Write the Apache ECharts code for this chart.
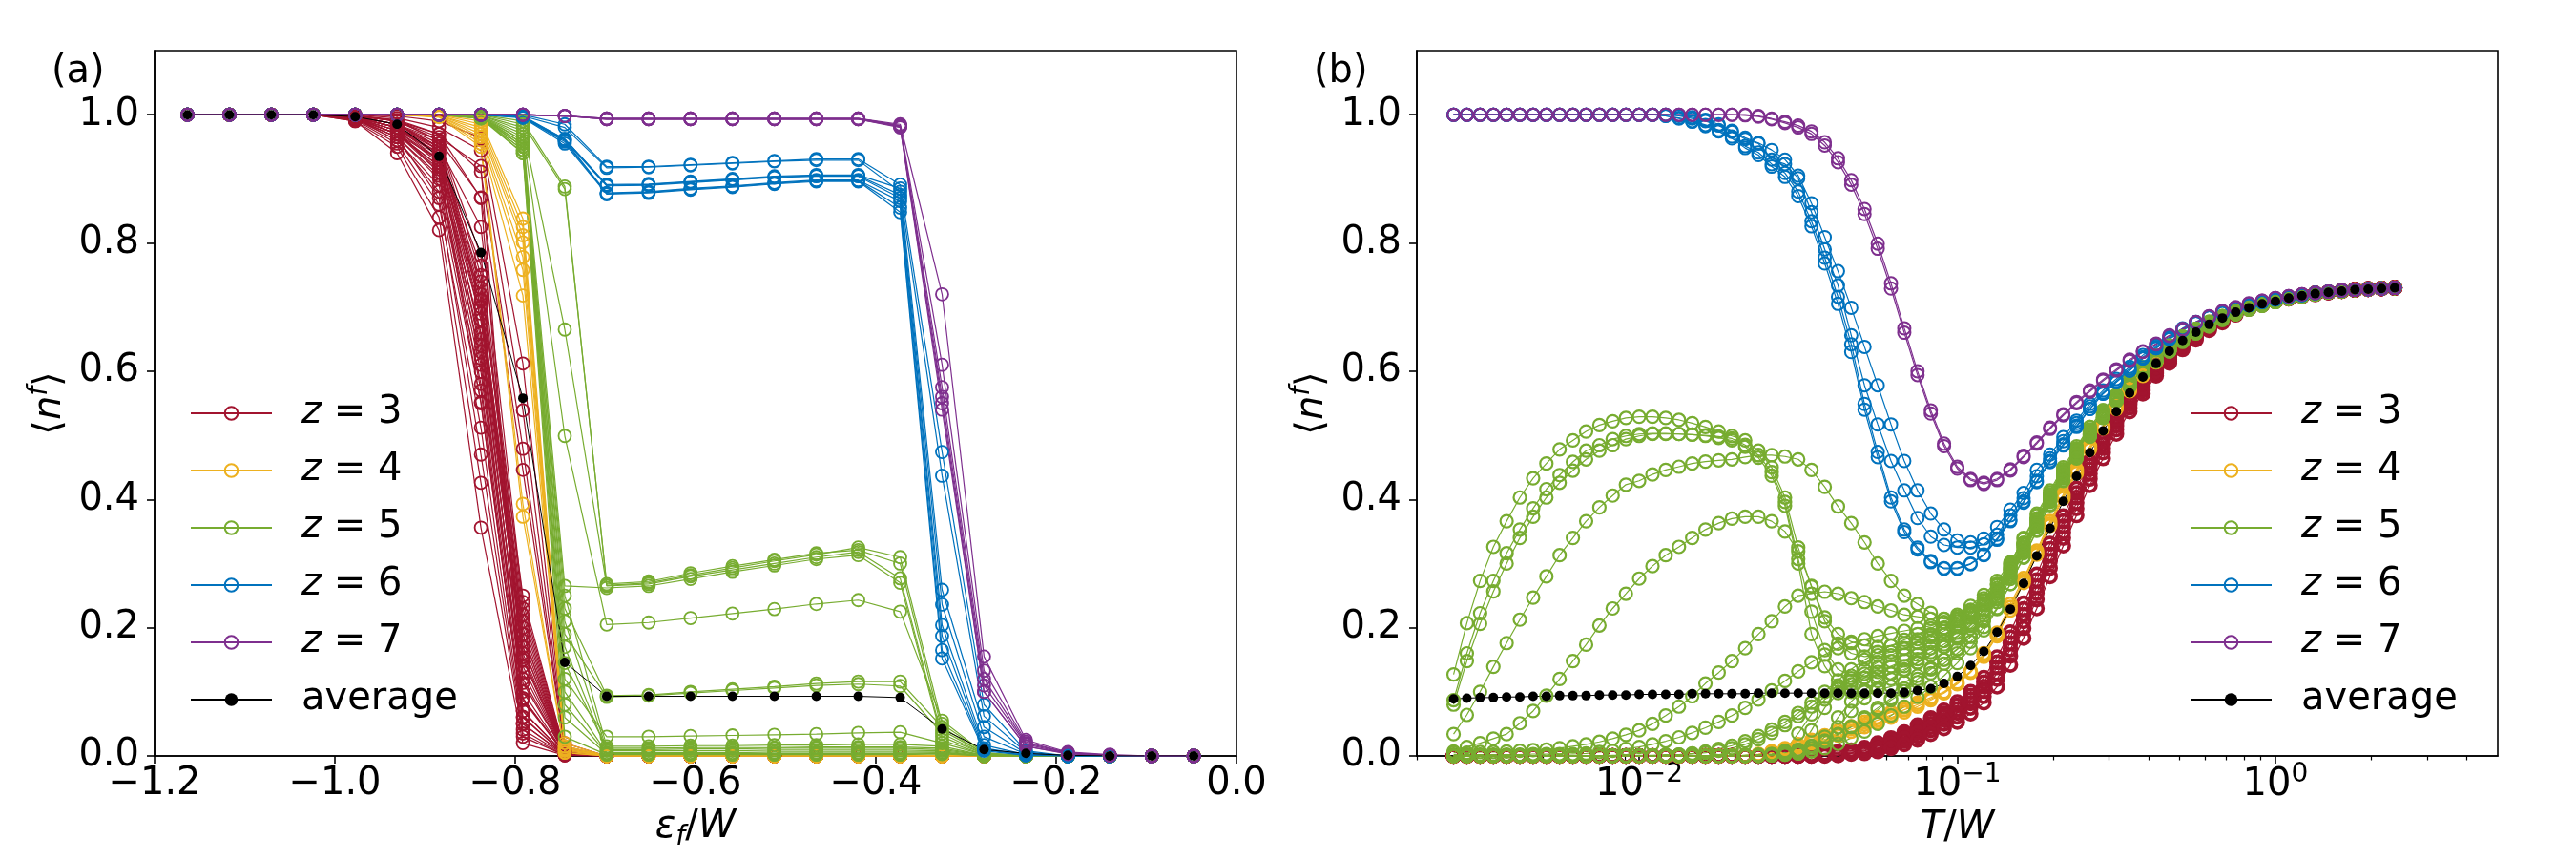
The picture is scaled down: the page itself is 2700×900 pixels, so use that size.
<!DOCTYPE html>
<html><head><meta charset="utf-8">
<script src="https://cdn.jsdelivr.net/npm/echarts@6/dist/echarts.min.js"></script>
<style>html,body{margin:0;padding:0;background:#fff}#c{width:2700px;height:900px}</style>
</head><body><div id="c"></div>
<script>
// ---------- Panel (a): x grid (eps_f / W) ----------
const EPS = [-1.1635,-1.117,-1.0705,-1.024,-0.9775,-0.931,-0.8845,-0.838,-0.7915,-0.745,-0.6985,-0.652,-0.6055,-0.559,-0.5125,-0.466,-0.4195,-0.373,-0.3265,-0.28,-0.2335,-0.187,-0.1405,-0.094,-0.0475];

const red_a = [
[1,1,1,1,1,0.998,0.99,0.964,0.612,0.02,0,0,0,0,0,0,0,0,0,0,0,0,0,0,0],
[1,1,1,1,1,0.995,0.98,0.944,0.539,0.015,0,0,0,0,0,0,0,0,0,0,0,0,0,0,0],
[1,1,1,1,0.999,0.99,0.97,0.911,0.479,0.012,0,0,0,0,0,0,0,0,0,0,0,0,0,0,0],
[1,1,1,1,0.998,0.99,0.96,0.871,0.446,0.01,0,0,0,0,0,0,0,0,0,0,0,0,0,0,0],
[1,1,1,1,0.997,0.985,0.95,0.825,0.24,0.008,0,0,0,0,0,0,0,0,0,0,0,0,0,0,0],
[1,1,1,1,0.996,0.98,0.94,0.765,0.2,0.006,0,0,0,0,0,0,0,0,0,0,0,0,0,0,0],
[1,1,1,1,0.995,0.975,0.93,0.712,0.154,0.005,0,0,0,0,0,0,0,0,0,0,0,0,0,0,0],
[1,1,1,1,0.995,0.97,0.92,0.659,0.114,0.004,0,0,0,0,0,0,0,0,0,0,0,0,0,0,0],
[1,1,1,1,0.994,0.965,0.9,0.599,0.087,0.003,0,0,0,0,0,0,0,0,0,0,0,0,0,0,0],
[1,1,1,1,0.993,0.96,0.88,0.552,0.061,0.002,0,0,0,0,0,0,0,0,0,0,0,0,0,0,0],
[1,1,1,1,0.992,0.955,0.86,0.512,0.041,0.002,0,0,0,0,0,0,0,0,0,0,0,0,0,0,0],
[1,1,1,1,0.99,0.95,0.84,0.426,0.03,0.001,0,0,0,0,0,0,0,0,0,0,0,0,0,0,0],
[1,1,1,1,0.99,0.94,0.82,0.356,0.02,0.001,0,0,0,0,0,0,0,0,0,0,0,0,0,0,0],
[1,1,1,1,0.997,0.985,0.945,0.74,0.22,0.006,0,0,0,0,0,0,0,0,0,0,0,0,0,0,0],
[1,1,1,1,0.996,0.98,0.935,0.69,0.18,0.005,0,0,0,0,0,0,0,0,0,0,0,0,0,0,0],
[1,1,1,1,0.995,0.975,0.925,0.68,0.17,0.005,0,0,0,0,0,0,0,0,0,0,0,0,0,0,0],
[1,1,1,1,0.994,0.97,0.915,0.64,0.13,0.004,0,0,0,0,0,0,0,0,0,0,0,0,0,0,0],
[1,1,1,1,0.993,0.965,0.905,0.62,0.1,0.003,0,0,0,0,0,0,0,0,0,0,0,0,0,0,0],
[1,1,1,1,0.997,0.985,0.955,0.73,0.25,0.008,0,0,0,0,0,0,0,0,0,0,0,0,0,0,0],
[1,1,1,1,0.996,0.98,0.94,0.7,0.21,0.006,0,0,0,0,0,0,0,0,0,0,0,0,0,0,0],
[1,1,1,1,0.995,0.97,0.92,0.66,0.16,0.005,0,0,0,0,0,0,0,0,0,0,0,0,0,0,0],
[1,1,1,1,0.994,0.96,0.89,0.58,0.07,0.002,0,0,0,0,0,0,0,0,0,0,0,0,0,0,0],
[1,1,1,1,0.999,0.992,0.97,0.87,0.07,0.003,0,0,0,0,0,0,0,0,0,0,0,0,0,0,0],
[1,1,1,1,0.998,0.99,0.965,0.92,0.05,0.002,0,0,0,0,0,0,0,0,0,0,0,0,0,0,0],
[1,1,1,1,0.997,0.985,0.95,0.7,0.14,0.004,0,0,0,0,0,0,0,0,0,0,0,0,0,0,0],
[1,1,1,1,0.996,0.98,0.93,0.63,0.09,0.003,0,0,0,0,0,0,0,0,0,0,0,0,0,0,0],
[1,1,1,1,0.995,0.975,0.91,0.57,0.05,0.002,0,0,0,0,0,0,0,0,0,0,0,0,0,0,0],
[1,1,1,1,0.994,0.965,0.87,0.47,0.035,0.001,0,0,0,0,0,0,0,0,0,0,0,0,0,0,0],
[1,1,1,1,0.998,0.99,0.96,0.75,0.19,0.006,0,0,0,0,0,0,0,0,0,0,0,0,0,0,0],
[1,1,1,1,0.997,0.985,0.95,0.72,0.17,0.005,0,0,0,0,0,0,0,0,0,0,0,0,0,0,0],
[1,1,1,1,0.996,0.98,0.945,0.68,0.15,0.004,0,0,0,0,0,0,0,0,0,0,0,0,0,0,0],
[1,1,1,1,0.995,0.975,0.94,0.65,0.12,0.004,0,0,0,0,0,0,0,0,0,0,0,0,0,0,0],
[1,1,1,1,0.994,0.97,0.93,0.61,0.09,0.003,0,0,0,0,0,0,0,0,0,0,0,0,0,0,0],
[1,1,1,1,0.997,0.985,0.96,0.78,0.23,0.007,0,0,0,0,0,0,0,0,0,0,0,0,0,0,0],
[1,1,1,1,0.996,0.98,0.95,0.71,0.19,0.005,0,0,0,0,0,0,0,0,0,0,0,0,0,0,0],
[1,1,1,1,0.995,0.97,0.91,0.55,0.06,0.002,0,0,0,0,0,0,0,0,0,0,0,0,0,0,0]
];
const yellow_a = [
[1,1,1,1,1,1,1,0.99,0.838,0.02,0,0,0,0,0,0,0,0,0,0,0,0,0,0,0],
[1,1,1,1,1,1,1,0.985,0.825,0.015,0,0,0,0,0,0,0,0,0,0,0,0,0,0,0],
[1,1,1,1,1,1,0.999,0.98,0.812,0.015,0,0,0,0,0,0,0,0,0,0,0,0,0,0,0],
[1,1,1,1,1,1,0.999,0.975,0.801,0.012,0,0,0,0,0,0,0,0,0,0,0,0,0,0,0],
[1,1,1,1,1,1,0.998,0.97,0.778,0.01,0,0,0,0,0,0,0,0,0,0,0,0,0,0,0],
[1,1,1,1,1,1,0.998,0.965,0.758,0.01,0,0,0,0,0,0,0,0,0,0,0,0,0,0,0],
[1,1,1,1,1,1,0.997,0.96,0.718,0.008,0,0,0,0,0,0,0,0,0,0,0,0,0,0,0],
[1,1,1,1,1,1,0.997,0.955,0.393,0.005,0,0,0,0,0,0,0,0,0,0,0,0,0,0,0],
[1,1,1,1,1,1,0.996,0.95,0.373,0.005,0,0,0,0,0,0,0,0,0,0,0,0,0,0,0]
];
const green_a = [
[1,1,1,1,1,1,1,1,0.99,0.888,0.266,0.27,0.282,0.293,0.304,0.314,0.325,0.31,0.05,0.005,0,0,0,0,0],
[1,1,1,1,1,1,1,1,0.985,0.884,0.268,0.272,0.285,0.296,0.306,0.316,0.321,0.3,0.04,0.004,0,0,0,0,0],
[1,1,1,1,1,1,1,0.999,0.98,0.665,0.265,0.268,0.28,0.29,0.3,0.31,0.318,0.277,0.03,0.003,0,0,0,0,0],
[1,1,1,1,1,1,1,0.998,0.97,0.265,0.262,0.265,0.276,0.287,0.297,0.307,0.313,0.27,0.025,0.002,0,0,0,0,0],
[1,1,1,1,1,1,1,0.999,0.975,0.499,0.205,0.208,0.215,0.222,0.229,0.237,0.243,0.225,0.055,0.005,0,0,0,0,0],
[1,1,1,1,1,1,1,0.998,0.965,0.23,0.094,0.095,0.1,0.104,0.108,0.113,0.116,0.116,0.045,0.003,0,0,0,0,0],
[1,1,1,1,1,1,1,0.998,0.96,0.19,0.092,0.094,0.098,0.102,0.106,0.11,0.112,0.109,0.035,0.003,0,0,0,0,0],
[1,1,1,1,1,1,1,0.997,0.955,0.12,0.03,0.03,0.031,0.032,0.033,0.034,0.036,0.037,0.02,0.002,0,0,0,0,0],
[1,1,1,1,1,1,1,0.997,0.95,0.25,0.015,0.015,0.016,0.016,0.017,0.017,0.018,0.018,0.015,0.001,0,0,0,0,0],
[1,1,1,1,1,1,1,0.996,0.945,0.21,0.01,0.01,0.011,0.011,0.012,0.012,0.012,0.012,0.01,0.001,0,0,0,0,0],
[1,1,1,1,1,1,1,0.996,0.94,0.17,0.008,0.008,0.008,0.008,0.009,0.009,0.009,0.009,0.008,0,0,0,0,0,0],
[1,1,1,1,1,1,1,0.995,0.955,0.1,0.005,0.005,0.005,0.005,0.006,0.006,0.006,0.006,0.006,0,0,0,0,0,0],
[1,1,1,1,1,1,1,0.995,0.95,0.08,0.004,0.004,0.004,0.004,0.004,0.004,0.004,0.004,0.005,0,0,0,0,0,0],
[1,1,1,1,1,1,1,0.994,0.945,0.06,0.003,0.003,0.003,0.003,0.003,0.003,0.003,0.003,0.004,0,0,0,0,0,0],
[1,1,1,1,1,1,1,0.994,0.94,0.03,0.002,0.002,0.002,0.002,0.002,0.002,0.002,0.002,0.003,0,0,0,0,0,0],
[1,1,1,1,1,1,1,0.996,0.96,0.145,0.012,0.012,0.013,0.013,0.013,0.014,0.014,0.014,0.012,0.001,0,0,0,0,0]
];
const blue_a = [
[1,1,1,1,1,1,1,1,1,0.985,0.919,0.919,0.922,0.925,0.928,0.931,0.931,0.891,0.474,0.08,0.008,0,0,0,0],
[1,1,1,1,1,1,1,1,0.998,0.98,0.917,0.918,0.921,0.924,0.927,0.929,0.929,0.88,0.437,0.062,0.006,0,0,0,0],
[1,1,1,1,1,1,1,1,0.998,0.962,0.891,0.892,0.896,0.9,0.904,0.906,0.906,0.885,0.259,0.045,0.004,0,0,0,0],
[1,1,1,1,1,1,1,1,0.997,0.962,0.89,0.891,0.895,0.899,0.903,0.905,0.905,0.875,0.236,0.03,0.003,0,0,0,0],
[1,1,1,1,1,1,1,1,0.997,0.96,0.889,0.89,0.894,0.898,0.902,0.904,0.904,0.87,0.204,0.017,0.002,0,0,0,0],
[1,1,1,1,1,1,1,1,0.996,0.96,0.878,0.88,0.885,0.889,0.894,0.898,0.898,0.865,0.187,0.012,0.002,0,0,0,0],
[1,1,1,1,1,1,1,1,0.996,0.958,0.877,0.879,0.884,0.888,0.893,0.897,0.897,0.855,0.165,0.01,0.001,0,0,0,0],
[1,1,1,1,1,1,1,1,0.995,0.955,0.876,0.878,0.883,0.887,0.892,0.896,0.896,0.848,0.152,0.008,0.001,0,0,0,0]
];
const purple_a = [
[1,1,1,1,1,1,1,1,1,0.998,0.994,0.994,0.994,0.994,0.994,0.994,0.994,0.985,0.72,0.155,0.025,0.006,0.002,0,0],
[1,1,1,1,1,1,1,1,1,0.998,0.994,0.994,0.994,0.994,0.994,0.994,0.994,0.983,0.61,0.133,0.022,0.005,0.001,0,0],
[1,1,1,1,1,1,1,1,1,0.998,0.994,0.994,0.994,0.994,0.994,0.994,0.994,0.983,0.575,0.12,0.02,0.005,0.001,0,0],
[1,1,1,1,1,1,1,1,1,0.998,0.993,0.993,0.993,0.993,0.993,0.993,0.993,0.982,0.56,0.11,0.018,0.004,0.001,0,0],
[1,1,1,1,1,1,1,1,1,0.998,0.993,0.993,0.993,0.993,0.993,0.993,0.993,0.981,0.55,0.1,0.015,0.004,0.001,0,0],
[1,1,1,1,1,1,1,1,1,0.998,0.993,0.993,0.993,0.993,0.993,0.993,0.993,0.98,0.54,0.1,0.015,0.003,0.001,0,0]
];
const avg_a = [1,1,1,1,0.997,0.985,0.935,0.785,0.558,0.146,0.093,0.093,0.093,0.093,0.093,0.093,0.093,0.091,0.042,0.01,0.004,0.001,0,0,0];

// ---------- Panel (b): temperature grid (T / W) ----------
const TW = [0.002610,0.002873,0.003162,0.003481,0.003831,0.004217,0.004642,0.005109,0.005623,0.006190,0.006813,0.007499,0.008254,0.009085,
0.01000,0.01101,0.01212,0.01334,0.01468,0.01616,0.01778,0.01957,0.02154,0.02371,0.02610,0.02873,0.03162,0.03481,0.03831,0.04217,0.04642,0.05109,0.05623,0.06190,0.06813,0.07499,0.08254,0.09085,
0.1000,0.1101,0.1212,0.1334,0.1468,0.1616,0.1778,0.1957,0.2154,0.2371,0.2610,0.2873,0.3162,0.3481,0.3831,0.4217,0.4642,0.5109,0.5623,0.6190,0.6813,0.7499,0.8254,0.9085,
1.000,1.101,1.212,1.334,1.468,1.616,1.778,1.957,2.154,2.371];

const red_b = [
[0,0,0,0,0,0,0,0,0,0,0,0,
 0,0,0,0,0,0,0,0,0,0,0,0,
 0,0,0,0.001,0.002,0.004,0.006,0.009,0.015,0.022,0.03,0.04,
 0.05,0.061,0.073,0.088,0.108,0.138,0.176,0.22,0.264,0.314,0.358,0.403,
 0.447,0.486,0.52,0.552,0.577,0.603,0.621,0.641,0.654,0.669,0.679,0.691,
 0.7,0.705,0.71,0.714,0.718,0.721,0.723,0.725,0.727,0.728,0.729,0.73],
[0,0,0,0,0,0,0,0,0,0,0,0,
 0,0,0,0,0,0,0,0,0,0,0,0,
 0,0,0,0,0.001,0.002,0.004,0.006,0.01,0.016,0.023,0.031,
 0.04,0.05,0.061,0.075,0.093,0.12,0.156,0.199,0.244,0.293,0.34,0.386,
 0.432,0.473,0.509,0.543,0.57,0.597,0.616,0.637,0.651,0.666,0.677,0.689,
 0.698,0.704,0.709,0.713,0.717,0.72,0.723,0.725,0.727,0.728,0.729,0.73],
[0,0,0,0,0,0,0,0,0,0,0,0,
 0,0,0,0,0,0,0,0,0,0,0,0,
 0,0,0.001,0.002,0.004,0.006,0.009,0.013,0.02,0.028,0.037,0.048,
 0.059,0.071,0.084,0.1,0.122,0.154,0.193,0.238,0.283,0.331,0.374,0.417,
 0.459,0.496,0.529,0.559,0.584,0.608,0.626,0.645,0.657,0.671,0.681,0.693,
 0.701,0.706,0.71,0.714,0.718,0.721,0.723,0.725,0.727,0.728,0.729,0.73],
[0,0,0,0,0,0,0,0,0,0,0,0,
 0,0,0,0,0,0,0,0,0,0,0,0,
 0,0,0.001,0.001,0.003,0.005,0.008,0.011,0.018,0.025,0.034,0.044,
 0.055,0.066,0.079,0.094,0.115,0.146,0.185,0.229,0.274,0.323,0.366,0.41,
 0.453,0.491,0.525,0.556,0.581,0.606,0.624,0.643,0.656,0.67,0.68,0.692,
 0.701,0.706,0.71,0.714,0.718,0.721,0.723,0.725,0.727,0.728,0.729,0.73],
[0,0,0,0,0,0,0,0,0,0,0,0,
 0,0,0,0,0,0,0,0,0,0,0,0,
 0,0,0,0.001,0.002,0.003,0.005,0.008,0.012,0.019,0.027,0.036,
 0.045,0.056,0.067,0.082,0.101,0.129,0.166,0.21,0.254,0.304,0.349,0.395,
 0.44,0.48,0.515,0.548,0.574,0.6,0.619,0.639,0.653,0.668,0.678,0.69,
 0.699,0.705,0.71,0.714,0.718,0.721,0.723,0.725,0.727,0.728,0.729,0.73],
[0,0,0,0,0,0,0,0,0,0,0,0,
 0,0,0,0,0,0,0,0,0,0,0,0,
 0,0,0,0,0,0.001,0.003,0.004,0.007,0.012,0.018,0.025,
 0.034,0.043,0.053,0.066,0.083,0.108,0.142,0.184,0.23,0.28,0.328,0.375,
 0.422,0.464,0.502,0.537,0.565,0.593,0.613,0.634,0.649,0.664,0.676,0.688,
 0.697,0.703,0.709,0.713,0.717,0.72,0.723,0.725,0.727,0.728,0.729,0.73]
];
const yellow_b = [
[0,0,0,0,0,0,0,0,0,0,0,0,
 0,0,0,0,0,0,0,0,0,0,0,0.002,
 0.005,0.009,0.014,0.02,0.026,0.032,0.038,0.045,0.052,0.06,0.068,0.077,
 0.087,0.098,0.112,0.13,0.155,0.187,0.227,0.27,0.314,0.359,0.402,0.441,
 0.478,0.511,0.541,0.569,0.593,0.614,0.633,0.649,0.662,0.674,0.684,0.692,
 0.699,0.705,0.71,0.714,0.718,0.721,0.723,0.725,0.727,0.728,0.729,0.73],
[0,0,0,0,0,0,0,0,0,0,0,0,
 0,0,0,0,0,0,0,0,0,0,0.001,0.003,
 0.007,0.012,0.018,0.025,0.032,0.039,0.046,0.053,0.06,0.068,0.076,0.083,
 0.091,0.1,0.115,0.132,0.16,0.192,0.237,0.277,0.32,0.366,0.408,0.447,
 0.483,0.515,0.545,0.572,0.596,0.616,0.635,0.651,0.664,0.675,0.685,0.693,
 0.7,0.705,0.71,0.714,0.718,0.721,0.723,0.725,0.727,0.728,0.729,0.73],
[0,0,0,0,0,0,0,0,0,0,0,0,
 0,0,0,0,0,0,0,0,0,0,0,0.001,
 0.006,0.01,0.016,0.022,0.029,0.035,0.042,0.049,0.056,0.064,0.072,0.08,
 0.089,0.099,0.113,0.131,0.157,0.189,0.232,0.273,0.317,0.362,0.405,0.444,
 0.48,0.513,0.543,0.57,0.594,0.615,0.634,0.65,0.663,0.674,0.684,0.692,
 0.699,0.705,0.71,0.714,0.718,0.721,0.723,0.725,0.727,0.728,0.729,0.73]
];
const green_b = [
[0.127,0.207,0.273,0.326,0.366,0.403,0.433,0.456,0.478,0.492,0.506,0.516,
 0.522,0.527,0.529,0.529,0.527,0.524,0.519,0.513,0.506,0.499,0.492,0.476,
 0.45,0.403,0.325,0.264,0.216,0.19,0.178,0.172,0.17,0.172,0.176,0.182,
 0.19,0.199,0.21,0.224,0.243,0.268,0.298,0.332,0.368,0.404,0.44,0.474,
 0.505,0.533,0.558,0.581,0.601,0.619,0.635,0.649,0.662,0.673,0.683,0.691,
 0.698,0.704,0.709,0.713,0.717,0.72,0.723,0.725,0.727,0.728,0.729,0.73],
[0.087,0.16,0.2225,0.273,0.316,0.353,0.386,0.416,0.438,0.4585,0.476,0.4845,
 0.494,0.499,0.502,0.503,0.503,0.502,0.501,0.5,0.498,0.495,0.485,0.469,
 0.4425,0.396,0.307,0.225,0.165,0.135,0.125,0.122,0.124,0.128,0.135,0.145,
 0.157,0.17,0.186,0.205,0.228,0.256,0.289,0.326,0.364,0.401,0.437,0.471,
 0.502,0.53,0.556,0.579,0.599,0.617,0.633,0.648,0.661,0.672,0.682,0.69,
 0.697,0.703,0.708,0.713,0.717,0.72,0.723,0.725,0.727,0.728,0.729,0.73],
[0.08,0.148,0.206,0.2565,0.3,0.34,0.373,0.403,0.426,0.445,0.4625,0.476,
 0.4845,0.494,0.499,0.502,0.502,0.502,0.501,0.499,0.496,0.492,0.482,0.465,
 0.437,0.39,0.3,0.19,0.14,0.11,0.1,0.1,0.103,0.108,0.115,0.125,
 0.137,0.15,0.166,0.186,0.212,0.244,0.28,0.32,0.36,0.398,0.435,0.469,
 0.5,0.528,0.554,0.577,0.598,0.616,0.632,0.647,0.66,0.671,0.681,0.689,
 0.697,0.703,0.708,0.713,0.717,0.72,0.723,0.725,0.727,0.728,0.729,0.73],
[0.034,0.064,0.1,0.139,0.176,0.2125,0.247,0.28,0.313,0.34,0.366,0.3875,
 0.406,0.423,0.429,0.439,0.446,0.451,0.456,0.459,0.461,0.4625,0.466,0.469,
 0.469,0.467,0.4625,0.446,0.4195,0.389,0.363,0.333,0.3,0.273,0.25,0.237,
 0.223,0.2135,0.214,0.222,0.236,0.258,0.292,0.33,0.37,0.408,0.444,0.478,
 0.509,0.536,0.561,0.583,0.603,0.621,0.637,0.651,0.664,0.675,0.685,0.693,
 0.7,0.706,0.71,0.714,0.718,0.721,0.723,0.725,0.727,0.728,0.729,0.73],
[0.007,0.014,0.02,0.027,0.034,0.051,0.07,0.094,0.12,0.148,0.1735,0.2035,
 0.23,0.253,0.2765,0.296,0.313,0.326,0.34,0.353,0.363,0.37,0.373,0.373,
 0.366,0.35,0.319,0.265,0.21,0.175,0.16,0.155,0.157,0.162,0.168,0.176,
 0.185,0.195,0.206,0.22,0.238,0.262,0.294,0.331,0.369,0.406,0.442,0.476,
 0.507,0.535,0.56,0.582,0.602,0.62,0.636,0.65,0.663,0.674,0.684,0.692,
 0.699,0.705,0.709,0.713,0.717,0.72,0.723,0.725,0.727,0.728,0.729,0.73],
[0.005,0.005,0.006,0.006,0.007,0.008,0.009,0.01,0.012,0.015,0.018,0.022,
 0.027,0.033,0.04,0.05,0.063,0.077,0.093,0.113,0.13,0.148,0.168,0.19,
 0.21,0.233,0.25,0.253,0.256,0.253,0.246,0.24,0.233,0.227,0.22,0.217,
 0.214,0.214,0.217,0.227,0.242,0.266,0.3,0.34,0.378,0.414,0.45,0.483,
 0.513,0.539,0.563,0.586,0.606,0.624,0.64,0.654,0.666,0.677,0.686,0.694,
 0.701,0.707,0.711,0.715,0.718,0.721,0.723,0.725,0.727,0.728,0.729,0.73],
[0.002,0.002,0.002,0.002,0.002,0.002,0.003,0.003,0.003,0.003,0.004,0.006,
 0.008,0.011,0.014,0.018,0.023,0.029,0.036,0.044,0.053,0.063,0.075,0.088,
 0.102,0.117,0.132,0.146,0.158,0.168,0.176,0.182,0.187,0.191,0.195,0.199,
 0.203,0.208,0.214,0.224,0.238,0.258,0.29,0.33,0.37,0.407,0.444,0.478,
 0.509,0.536,0.561,0.583,0.603,0.621,0.637,0.651,0.664,0.675,0.685,0.693,
 0.7,0.706,0.71,0.714,0.718,0.721,0.723,0.725,0.727,0.728,0.729,0.73],
[0,0,0,0,0,0,0,0,0,0,0,0,
 0.001,0.001,0.001,0.001,0.002,0.002,0.003,0.005,0.008,0.012,0.018,0.026,
 0.036,0.048,0.062,0.077,0.092,0.107,0.121,0.134,0.146,0.157,0.167,0.177,
 0.188,0.2,0.213,0.228,0.246,0.268,0.296,0.332,0.37,0.406,0.442,0.476,
 0.507,0.535,0.56,0.582,0.602,0.62,0.636,0.65,0.663,0.674,0.684,0.692,
 0.699,0.705,0.709,0.713,0.717,0.72,0.723,0.725,0.727,0.728,0.729,0.73],
[0,0,0,0,0,0,0,0,0,0,0,0,
 0,0,0,0,0,0,0,0,0,0,0,0,
 0.002,0.004,0.008,0.04,0.075,0.098,0.112,0.122,0.131,0.14,0.149,0.158,
 0.168,0.179,0.192,0.208,0.228,0.253,0.286,0.325,0.365,0.403,0.44,0.474,
 0.505,0.533,0.558,0.581,0.601,0.619,0.635,0.649,0.662,0.673,0.683,0.691,
 0.698,0.704,0.709,0.713,0.717,0.72,0.723,0.725,0.727,0.728,0.729,0.73],
[0,0,0,0,0,0,0,0,0,0,0,0,
 0,0,0,0,0,0,0,0,0,0,0,0,
 0.001,0.002,0.004,0.008,0.03,0.06,0.085,0.103,0.117,0.129,0.14,0.151,
 0.162,0.174,0.187,0.203,0.223,0.249,0.283,0.322,0.362,0.4,0.437,0.471,
 0.502,0.53,0.556,0.579,0.599,0.617,0.633,0.648,0.661,0.672,0.682,0.69,
 0.697,0.703,0.708,0.713,0.717,0.72,0.723,0.725,0.727,0.728,0.729,0.73],
[0,0,0,0,0,0,0,0,0,0,0,0,
 0,0,0,0,0,0,0,0,0,0,0.001,0.002,
 0.003,0.006,0.01,0.016,0.024,0.034,0.046,0.06,0.075,0.09,0.105,0.12,
 0.135,0.15,0.167,0.186,0.21,0.24,0.276,0.316,0.357,0.396,0.433,0.468,
 0.5,0.528,0.554,0.577,0.598,0.616,0.632,0.647,0.66,0.671,0.681,0.689,
 0.697,0.703,0.708,0.713,0.717,0.72,0.723,0.725,0.727,0.728,0.729,0.73],
[0,0,0,0,0,0,0,0,0,0,0,0,
 0,0,0,0,0,0,0,0,0,0,0,0,
 0.001,0.002,0.004,0.007,0.012,0.019,0.028,0.038,0.05,0.063,0.077,0.092,
 0.108,0.125,0.145,0.168,0.196,0.229,0.268,0.31,0.352,0.392,0.43,0.465,
 0.498,0.527,0.553,0.576,0.597,0.615,0.631,0.646,0.659,0.67,0.68,0.689,
 0.696,0.702,0.708,0.713,0.717,0.72,0.723,0.725,0.727,0.728,0.729,0.73],
[0,0,0,0,0,0,0,0,0,0,0,0,
 0,0,0,0,0.001,0.002,0.004,0.007,0.011,0.016,0.023,0.031,
 0.041,0.053,0.067,0.083,0.1,0.118,0.135,0.15,0.162,0.172,0.181,0.19,
 0.199,0.209,0.22,0.234,0.251,0.273,0.302,0.338,0.375,0.411,0.447,0.48,
 0.513,0.539,0.563,0.586,0.606,0.624,0.64,0.654,0.666,0.677,0.686,0.694,
 0.701,0.707,0.711,0.715,0.718,0.721,0.723,0.725,0.727,0.728,0.729,0.73],
[0,0,0,0,0,0,0,0,0,0,0,0,
 0,0,0,0,0,0,0,0,0,0,0,0.001,
 0.003,0.008,0.035,0.065,0.088,0.104,0.117,0.128,0.138,0.148,0.158,0.168,
 0.178,0.189,0.201,0.216,0.235,0.259,0.291,0.329,0.368,0.405,0.441,0.475,
 0.507,0.535,0.56,0.582,0.602,0.62,0.636,0.65,0.663,0.674,0.684,0.692,
 0.699,0.705,0.709,0.713,0.717,0.72,0.723,0.725,0.727,0.728,0.729,0.73],
[0,0,0,0,0,0,0,0,0,0,0,0,
 0,0,0,0,0,0,0,0,0,0,0,0,
 0.001,0.003,0.006,0.012,0.022,0.045,0.07,0.09,0.106,0.12,0.133,0.146,
 0.158,0.17,0.183,0.199,0.219,0.245,0.279,0.318,0.359,0.398,0.435,0.469,
 0.5,0.528,0.554,0.577,0.598,0.616,0.632,0.647,0.66,0.671,0.681,0.689,
 0.697,0.703,0.708,0.713,0.717,0.72,0.723,0.725,0.727,0.728,0.729,0.73],
[0,0,0,0,0,0,0,0,0,0,0,0,
 0,0,0,0,0,0,0,0,0,0,0.001,0.001,
 0.002,0.005,0.009,0.015,0.023,0.033,0.045,0.058,0.072,0.087,0.101,0.115,
 0.129,0.144,0.16,0.178,0.201,0.231,0.268,0.309,0.351,0.391,0.429,0.464,
 0.498,0.527,0.553,0.576,0.597,0.615,0.631,0.646,0.659,0.67,0.68,0.689,
 0.696,0.702,0.708,0.713,0.717,0.72,0.723,0.725,0.727,0.728,0.729,0.73]
];
const blue_b = [
[1,1,1,1,1,1,1,1,1,1,1,1,
 1,1,1,1,1,0.999,0.996,0.992,0.985,0.975,0.964,0.956,
 0.945,0.93,0.905,0.862,0.809,0.756,0.699,0.638,0.578,0.517,0.46,0.414,
 0.378,0.353,0.336,0.333,0.339,0.357,0.384,0.41,0.446,0.47,0.497,0.523,
 0.549,0.57,0.588,0.607,0.625,0.64,0.653,0.667,0.677,0.685,0.692,0.699,
 0.704,0.709,0.713,0.716,0.719,0.722,0.724,0.726,0.727,0.728,0.729,0.73],
[1,1,1,1,1,1,1,1,1,1,1,1,
 1,1,1,1,1,0.998,0.994,0.99,0.983,0.973,0.962,0.955,
 0.93,0.923,0.901,0.848,0.79,0.734,0.656,0.578,0.517,0.46,0.414,0.371,
 0.342,0.329,0.325,0.325,0.33,0.345,0.375,0.402,0.436,0.464,0.491,0.519,
 0.545,0.567,0.585,0.604,0.622,0.638,0.652,0.666,0.676,0.684,0.691,0.698,
 0.703,0.708,0.712,0.716,0.719,0.722,0.724,0.726,0.727,0.728,0.729,0.73],
[1,1,1,1,1,1,1,1,1,1,1,1,
 1,1,1,1,0.998,0.995,0.99,0.984,0.976,0.966,0.951,0.941,
 0.923,0.909,0.88,0.834,0.777,0.716,0.642,0.549,0.474,0.403,0.353,0.325,
 0.304,0.293,0.293,0.3,0.314,0.339,0.368,0.397,0.429,0.46,0.486,0.515,
 0.541,0.565,0.583,0.601,0.62,0.636,0.65,0.664,0.675,0.684,0.691,0.698,
 0.703,0.708,0.712,0.716,0.719,0.722,0.724,0.726,0.727,0.728,0.729,0.73],
[1,1,1,1,1,1,1,1,1,1,1,1,
 1,1,1,1,0.998,0.994,0.989,0.982,0.974,0.963,0.948,0.937,
 0.919,0.903,0.873,0.826,0.768,0.705,0.63,0.54,0.466,0.397,0.349,0.322,
 0.302,0.292,0.292,0.299,0.313,0.337,0.366,0.395,0.427,0.458,0.484,0.513,
 0.541,0.565,0.583,0.601,0.62,0.636,0.65,0.664,0.675,0.684,0.691,0.698,
 0.703,0.708,0.712,0.716,0.719,0.722,0.724,0.726,0.727,0.728,0.729,0.73]
];
const purple_b = [
[1,1,1,1,1,1,1,1,1,1,1,1,
 1,1,1,1,1,1,1,1,1,1,1,0.998,
 0.994,0.989,0.983,0.974,0.957,0.932,0.898,0.853,0.799,0.737,0.667,0.6,
 0.539,0.487,0.451,0.432,0.426,0.432,0.447,0.468,0.489,0.512,0.533,0.552,
 0.57,0.587,0.603,0.618,0.631,0.643,0.656,0.666,0.677,0.686,0.694,0.7,
 0.706,0.71,0.714,0.717,0.72,0.722,0.724,0.726,0.727,0.728,0.729,0.73],
[1,1,1,1,1,1,1,1,1,1,1,1,
 1,1,1,1,1,1,1,1,1,1,0.999,0.997,
 0.993,0.987,0.98,0.97,0.952,0.926,0.891,0.845,0.791,0.729,0.66,0.594,
 0.534,0.483,0.448,0.43,0.424,0.43,0.445,0.466,0.487,0.51,0.531,0.55,
 0.568,0.585,0.601,0.616,0.63,0.642,0.655,0.665,0.676,0.685,0.693,0.699,
 0.705,0.71,0.714,0.717,0.72,0.722,0.724,0.726,0.727,0.728,0.729,0.73]
];
const avg_b = [0.089,0.09,0.091,0.091,0.092,0.092,0.093,0.093,0.094,0.094,0.094,0.095,
 0.095,0.095,0.096,0.096,0.096,0.096,0.097,0.097,0.097,0.097,0.097,0.098,
 0.098,0.098,0.098,0.098,0.098,0.098,0.098,0.098,0.098,0.098,0.099,0.102,
 0.105,0.113,0.124,0.141,0.163,0.193,0.229,0.269,0.312,0.355,0.397,0.436,
 0.473,0.507,0.537,0.566,0.591,0.612,0.631,0.648,0.661,0.673,0.683,0.692,
 0.699,0.705,0.709,0.714,0.718,0.721,0.723,0.725,0.727,0.728,0.729,0.73];

// ---------- tick labels ----------
const Y_TICKS = [0, 0.2, 0.4, 0.6, 0.8, 1.0];
const LOG_MAJOR = [0.01, 0.1, 1];
const LOG_MINOR = [0.002,0.003,0.004,0.005,0.006,0.007,0.008,0.009,0.02,0.03,0.04,0.05,0.06,0.07,0.08,0.09,0.2,0.3,0.4,0.5,0.6,0.7,0.8,0.9,2,3,4];
const LEGEND_NAMES = ['z = 3','z = 4','z = 5','z = 6','z = 7','average'];

// ---------- styling ----------
const COL = {'z = 3':'#A2142F','z = 4':'#EDB120','z = 5':'#77AC30','z = 6':'#0072BD','z = 7':'#7E2F8E'};
const FONT = 'DejaVu Sans';
const FS = 40;

function ringSeries(name, xs, ys, ax, bw) {
  const c = COL[name];
  return {
    type: 'line', name, xAxisIndex: ax === 0 ? 0 : 1, yAxisIndex: ax,
    data: xs.map((x, i) => [x, ys[i]]),
    symbol: 'circle', symbolSize: 13, showSymbol: true,
    lineStyle: { color: c, width: 1.2 },
    itemStyle: { color: 'rgba(255,255,255,0)', borderColor: c, borderWidth: bw || 1.8 },
    emphasis: { disabled: true }, silent: true, animation: false
  };
}
function avgSeries(xs, ys, ax) {
  return {
    type: 'line', name: 'average', xAxisIndex: ax === 0 ? 0 : 1, yAxisIndex: ax,
    data: xs.map((x, i) => [x, ys[i]]),
    symbol: 'circle', symbolSize: 10,
    lineStyle: { color: '#000', width: 1 },
    itemStyle: { color: '#000', borderWidth: 0 },
    emphasis: { disabled: true }, silent: true, animation: false
  };
}

const series = [];
red_a.forEach(r => series.push(ringSeries('z = 3', EPS, r, 0)));
yellow_a.forEach(r => series.push(ringSeries('z = 4', EPS, r, 0)));
green_a.forEach(r => series.push(ringSeries('z = 5', EPS, r, 0)));
blue_a.forEach(r => series.push(ringSeries('z = 6', EPS, r, 0)));
purple_a.forEach(r => series.push(ringSeries('z = 7', EPS, r, 0)));
series.push(avgSeries(EPS, avg_a, 0));
red_b.forEach(r => series.push(ringSeries('z = 3', TW, r, 1, 3.6)));
yellow_b.forEach(r => series.push(ringSeries('z = 4', TW, r, 1, 2.6)));
green_b.forEach(r => series.push(ringSeries('z = 5', TW, r, 1, 2.2)));
blue_b.forEach(r => series.push(ringSeries('z = 6', TW, r, 1, 2.0)));
purple_b.forEach(r => series.push(ringSeries('z = 7', TW, r, 1, 2.0)));
series.push(avgSeries(TW, avg_b, 1));

const axisLineStyle = { show: true, onZero: false, lineStyle: { color: '#000', width: 1.6 } };
const labelBase = { color: '#000', fontSize: FS, fontFamily: FONT };

function yAxisCfg(gi) {
  return {
    gridIndex: gi, type: 'value', min: 0, max: 1.1,
    axisLine: axisLineStyle,
    axisTick: { show: true, length: 8, lineStyle: { color: '#000', width: 1.6 }, customValues: Y_TICKS },
    axisLabel: Object.assign({ margin: 16, customValues: Y_TICKS, formatter: v => v.toFixed(1) }, labelBase),
    splitLine: { show: false },
    name: '{m|\u27E8}{i|n}{s|f}{m|\u27E9}', nameLocation: 'middle', nameRotate: 90, nameGap: 84,
    nameTextStyle: { color: '#000', fontSize: FS, fontFamily: FONT,
      rich: { m: { fontSize: FS, fontFamily: FONT, lineHeight: 50, color: '#000' },
              i: { fontSize: FS, fontFamily: FONT, fontStyle: 'italic', lineHeight: 50, color: '#000' },
              s: { fontSize: 28, fontFamily: FONT, fontStyle: 'italic', lineHeight: 26, verticalAlign: 'top', color: '#000' } } }
  };
}

const option = {
  backgroundColor: '#fff',
  animation: false,
  grid: [
    { left: 162, top: 53, width: 1134, height: 739, show: true, borderColor: '#000', borderWidth: 1.6, backgroundColor: 'rgba(0,0,0,0)' },
    { left: 1485, top: 53, width: 1133, height: 739, show: true, borderColor: '#000', borderWidth: 1.6, backgroundColor: 'rgba(0,0,0,0)' }
  ],
  xAxis: [
    { gridIndex: 0, type: 'value', min: -1.2, max: 0, interval: 0.2,
      axisLine: axisLineStyle,
      axisTick: { show: true, length: 8, lineStyle: { color: '#000', width: 1.6 } },
      axisLabel: Object.assign({ margin: 10, formatter: v => Math.abs(v) < 1e-9 ? '0.0' : (v < 0 ? '\u2212' : '') + Math.abs(v).toFixed(1) }, labelBase),
      splitLine: { show: false },
      name: '{i|\u03B5}{s|f}{m|/}{i|W}', nameLocation: 'middle', nameGap: 47,
      nameTextStyle: { color: '#000', fontSize: FS, fontFamily: FONT,
        rich: { m: { fontSize: FS, fontFamily: FONT, lineHeight: 50, color: '#000' },
                i: { fontSize: FS, fontFamily: FONT, fontStyle: 'italic', lineHeight: 50, color: '#000' },
                s: { fontSize: 28, fontFamily: FONT, fontStyle: 'italic', lineHeight: 30, verticalAlign: 'bottom', color: '#000' } } }
    },
    { gridIndex: 1, type: 'log', logBase: 10, min: 0.002, max: 5,
      axisLine: axisLineStyle,
      axisTick: { show: true, length: 8, lineStyle: { color: '#000', width: 1.6 }, customValues: LOG_MAJOR },
      axisLabel: Object.assign({ margin: 6, customValues: LOG_MAJOR,
        formatter: v => { const e = Math.round(Math.log10(v)); return '{b|10}{s|' + (e < 0 ? '\u2212' : '') + Math.abs(e) + '}'; },
        rich: { b: { fontSize: FS, fontFamily: FONT, lineHeight: 50, color: '#000' },
                s: { fontSize: 28, fontFamily: FONT, lineHeight: 26, verticalAlign: 'top', color: '#000' } } }, labelBase),
      splitLine: { show: false },
      name: '{i|T}{m|/}{i|W}', nameLocation: 'middle', nameGap: 47,
      nameTextStyle: { color: '#000', fontSize: FS, fontFamily: FONT,
        rich: { m: { fontSize: FS, fontFamily: FONT, lineHeight: 50, color: '#000' },
                i: { fontSize: FS, fontFamily: FONT, fontStyle: 'italic', lineHeight: 50, color: '#000' } } }
    },
    { gridIndex: 1, type: 'log', logBase: 10, min: 0.002, max: 5, position: 'bottom', offset: 0,
      axisLine: { show: false },
      axisTick: { show: true, length: 4.5, lineStyle: { color: '#000', width: 1.2 }, customValues: LOG_MINOR },
      axisLabel: { show: false }, splitLine: { show: false }
    }
  ],
  yAxis: [ yAxisCfg(0), yAxisCfg(1) ],
  legend: [0, 1].map(k => ({
    data: LEGEND_NAMES, orient: 'vertical', left: k === 0 ? 199 : 2295, top: 411,
    itemWidth: 85, itemHeight: 17, itemGap: 16, padding: 0, selectedMode: false,
    formatter: n => n === 'average' ? '{n|average}' : '{i|z}{n|' + n.slice(1) + '}',
    textStyle: { color: '#000', fontSize: FS, fontFamily: FONT, lineHeight: 44, padding: [0, 0, 0, 26],
      rich: { i: { fontSize: FS, fontFamily: FONT, fontStyle: 'italic', lineHeight: 44, color: '#000' },
              n: { fontSize: FS, fontFamily: FONT, lineHeight: 44, color: '#000' } } }
  })),
  graphic: [
    { type: 'text', left: 54, top: 56, style: { text: '(a)', font: '40px "DejaVu Sans"', fill: '#000' } },
    { type: 'text', left: 1377, top: 56, style: { text: '(b)', font: '40px "DejaVu Sans"', fill: '#000' } }
  ],
  series
};

const chart = echarts.init(document.getElementById('c'), null, { renderer: 'canvas', width: 2700, height: 900 });
chart.setOption(option);
</script></body></html>
